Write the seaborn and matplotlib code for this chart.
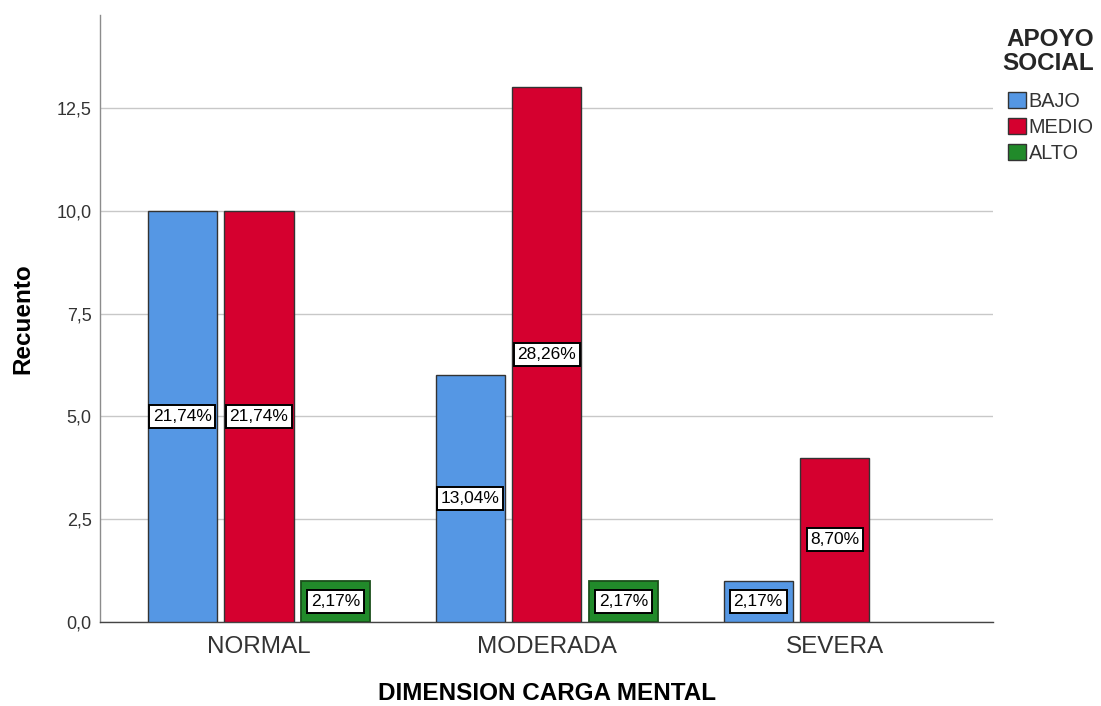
import matplotlib
matplotlib.use("Agg")
import matplotlib.pyplot as plt
import seaborn as sns
import pandas as pd
from matplotlib.ticker import FixedLocator, FuncFormatter
from matplotlib.patches import Patch

# Counts of social support level within each mental-load category
categories = ["NORMAL", "MODERADA", "SEVERA"]
support_levels = ["BAJO", "MEDIO", "ALTO"]
bajo = [10, 6, 1]
medio = [10, 13, 4]
alto = [1, 1, 0]
percent_labels = {
    ("NORMAL", "BAJO"): "21,74%", ("NORMAL", "MEDIO"): "21,74%", ("NORMAL", "ALTO"): "2,17%",
    ("MODERADA", "BAJO"): "13,04%", ("MODERADA", "MEDIO"): "28,26%", ("MODERADA", "ALTO"): "2,17%",
    ("SEVERA", "BAJO"): "2,17%", ("SEVERA", "MEDIO"): "8,70%",
}
y_ticks = [0.0, 2.5, 5.0, 7.5, 10.0, 12.5]

colors = {"BAJO": "#5597e4", "MEDIO": "#d5002f", "ALTO": "#218a2a"}

rows = []
for i, cat in enumerate(categories):
    for lvl, vals in zip(support_levels, [bajo, medio, alto]):
        rows.append({"cat": cat, "nivel": lvl, "n": vals[i]})
df = pd.DataFrame(rows)

sns.set_style("white")
plt.rcParams["font.family"] = ["Liberation Sans", "DejaVu Sans"]

fig = plt.figure(figsize=(11.01, 7.06), dpi=100)
ax = fig.add_axes([100 / 1101, 1 - 622 / 706, 893 / 1101, 607 / 706])

sns.barplot(data=df, x="cat", y="n", hue="nivel", order=categories,
            hue_order=support_levels, palette=colors, saturation=1,
            width=0.8, gap=0.1, edgecolor="#333333", linewidth=1.0,
            ax=ax, legend=False, zorder=3)

# Value labels in white boxes at bar mid-height
for lvl, cont in zip(support_levels, ax.containers):
    for cat, bar in zip(categories, cont):
        h = bar.get_height()
        if h <= 0:
            bar.set_visible(False)
            continue
        if lvl == "ALTO":
            bar.set_edgecolor("#1b4f1b")
            bar.set_linewidth(1.3)
        ax.text(bar.get_x() + bar.get_width() / 2, h / 2, percent_labels[(cat, lvl)],
                ha="center", va="center", fontsize=12.5, color="black", zorder=5,
                bbox=dict(boxstyle="square,pad=0.22", fc="white", ec="black", lw=1.4))

ax.set_xlim(-0.552, 2.549)
ax.set_ylim(0, 14.76)
ax.yaxis.set_major_locator(FixedLocator(y_ticks))
ax.yaxis.set_major_formatter(FuncFormatter(lambda v, p: f"{v:.1f}".replace(".", ",")))
ax.grid(axis="y", color="#c8c8c8", linewidth=1.0, zorder=0)
ax.set_axisbelow(True)

for s in ["top", "right"]:
    ax.spines[s].set_visible(False)
ax.spines["left"].set_color("#8c8c8c")
ax.spines["left"].set_linewidth(1.0)
ax.spines["bottom"].set_color("#444444")
ax.spines["bottom"].set_linewidth(1.0)

ax.tick_params(axis="y", length=0, labelsize=13, labelcolor="#333333", pad=6)
ax.tick_params(axis="x", length=0, labelsize=17.5, labelcolor="#333333", pad=10)

ax.set_xlabel("DIMENSION CARGA MENTAL", fontsize=17.5, fontweight="bold",
              color="black", labelpad=17)
ax.set_ylabel("Recuento", fontsize=17.5, fontweight="bold", color="black", labelpad=16)

handles = [Patch(facecolor=colors[l], edgecolor="#333333", label=l) for l in support_levels]
leg = fig.legend(handles=handles, title="APOYO\nSOCIAL", loc="upper left",
                 bbox_to_anchor=(1002 / 1101, 1 - 28 / 706), frameon=False,
                 fontsize=14.3, handlelength=0.9, handleheight=0.9, handletextpad=0.15,
                 labelspacing=0.35, borderaxespad=0, borderpad=0)
leg.get_title().set_fontweight("bold")
leg.get_title().set_fontsize(17.5)
leg.get_title().set_ha("right")
leg.get_title().set_linespacing(1.05)
leg._legend_box.align = "right"
leg._legend_box.sep = 12
for t in leg.get_texts():
    t.set_color("#333333")

fig.savefig("out.png", dpi=100, facecolor="white")
